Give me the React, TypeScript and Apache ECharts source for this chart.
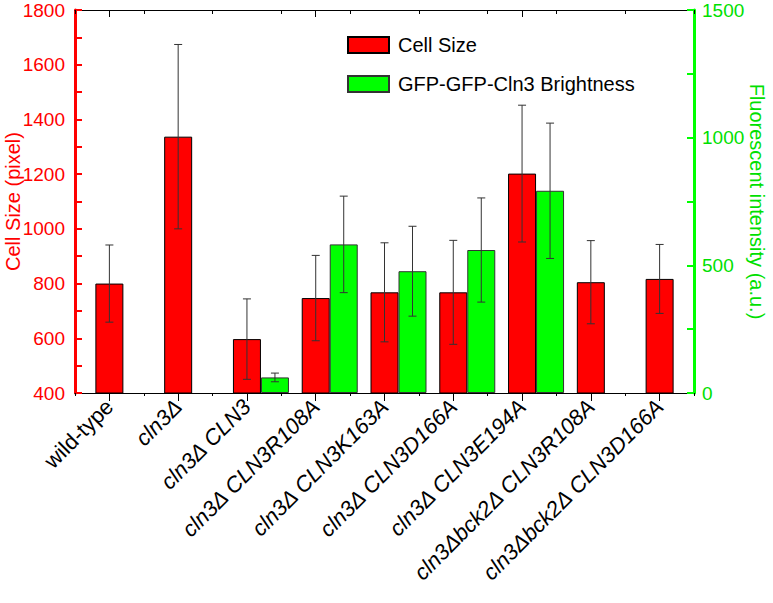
import React, { useEffect, useRef } from "react";
import * as echarts from "echarts";

const categories = [
  "wild-type",
  "cln3Δ",
  "cln3Δ CLN3",
  "cln3Δ CLN3R108A",
  "cln3Δ CLN3K163A",
  "cln3Δ CLN3D166A",
  "cln3Δ CLN3E194A",
  "cln3Δbck2Δ CLN3R108A",
  "cln3Δbck2Δ CLN3D166A",
];
const cellSize = [800, 1337, 597, 747, 768, 768, 1202, 805, 817];
const cellSizeErr = [141, 337, 147, 156, 181, 190, 250, 152, 126];
const brightness: (number | null)[] = [null, null, 61, 582, 477, 560, 792, null, null];
const brightnessErr: (number | null)[] = [null, null, 17, 189, 176, 204, 265, null, null];

const FONT = "'Liberation Sans', Arial, sans-serif";
const RED = "#ff0000";
const GREEN = "#00ff00";
const GREEN_TEXT = "#00e000";
const BAR_W = 28;

function errRenderer(offset: number) {
  return (params: any, api: any) => {
    const x = api.value(0);
    const lo = api.value(1);
    const hi = api.value(2);
    const p1 = api.coord([x, hi]);
    const p2 = api.coord([x, lo]);
    const cx = p1[0] + offset;
    const style = { stroke: "#333333", lineWidth: 1 };
    return {
      type: "group",
      children: [
        { type: "line", shape: { x1: cx, y1: p1[1], x2: cx, y2: p2[1] }, style },
        { type: "line", shape: { x1: cx - 4, y1: p1[1], x2: cx + 4, y2: p1[1] }, style },
        { type: "line", shape: { x1: cx - 4, y1: p2[1], x2: cx + 4, y2: p2[1] }, style },
      ],
    };
  };
}

export default function App() {
  const ref = useRef<HTMLDivElement>(null);
  useEffect(() => {
    if (!ref.current) return;
    const chart = echarts.init(ref.current, undefined, { renderer: "svg" });
    const cellErrData = cellSize.map((v, i) => [i, v - cellSizeErr[i], v + cellSizeErr[i]]);
    const brightErrData: number[][] = [];
    brightness.forEach((v, i) => {
      if (v != null && brightnessErr[i] != null) {
        brightErrData.push([i, v - (brightnessErr[i] as number), v + (brightnessErr[i] as number)]);
      }
    });
    chart.setOption({
      animation: false,
      textStyle: { fontFamily: FONT },
      grid: { left: 75, right: 79, top: 10, bottom: 210, containLabel: false, outerBoundsMode: "none" },
      legend: {
        data: ["Cell Size", "GFP-GFP-Cln3 Brightness"],
        orient: "vertical",
        left: 342,
        top: 30,
        itemWidth: 41,
        itemHeight: 16,
        itemGap: 19,
        icon: "rect",
        textStyle: { fontSize: 20, color: "#000", fontFamily: FONT, padding: [0, 0, 0, 4] },
      },
      xAxis: [
        {
          type: "category",
          data: categories,
          position: "bottom",
          axisLine: { show: true, onZero: false, lineStyle: { color: "#000", width: 1 } },
          axisTick: { show: true, alignWithLabel: true, length: 8, lineStyle: { color: "#000" } },
          axisLabel: {
            rotate: 45,
            margin: 10,
            interval: 0,
            formatter: (v: string) => (v === "wild-type" ? `{n|${v}}` : `{i|${v}}`),
            rich: {
              n: { fontSize: 22, fontStyle: "normal", color: "#000", fontFamily: FONT },
              i: { fontSize: 22, fontStyle: "italic", color: "#000", fontFamily: FONT },
            },
          },
          splitLine: { show: false },
        },
        {
          type: "value",
          min: 0,
          max: 18,
          interval: 2,
          position: "bottom",
          axisLine: { show: false, onZero: false },
          axisTick: { show: true, length: 3, lineStyle: { color: "#000" } },
          axisLabel: { show: false },
          splitLine: { show: false },
        },
        {
          type: "category",
          data: categories,
          position: "top",
          axisLine: { show: true, onZero: false, lineStyle: { color: "#000", width: 1 } },
          axisTick: { show: true, alignWithLabel: true, inside: true, length: 7, lineStyle: { color: "#000" } },
          axisLabel: { show: false },
          splitLine: { show: false },
        },
        {
          type: "value",
          min: 0,
          max: 18,
          interval: 2,
          position: "top",
          axisLine: { show: false, onZero: false },
          axisTick: { show: true, inside: true, length: 4, lineStyle: { color: "#000" } },
          axisLabel: { show: false },
          splitLine: { show: false },
        },
      ],
      yAxis: [
        {
          type: "value",
          position: "left",
          min: 400,
          max: 1800,
          interval: 100,
          axisLine: { show: true, onZero: false, lineStyle: { color: RED, width: 3 } },
          axisTick: { show: true, inside: true, length: 7, lineStyle: { color: RED, width: 2 } },
          axisLabel: {
            color: RED,
            fontSize: 19,
            margin: 10,
            fontFamily: FONT,
            formatter: (v: number) => (v % 200 === 0 ? String(v) : ""),
          },
          splitLine: { show: false },
          name: "Cell Size (pixel)",
          nameLocation: "middle",
          nameGap: 52,
          nameMoveOverlap: false,
          nameTextStyle: { color: RED, fontSize: 20, fontFamily: FONT },
        },
        {
          type: "value",
          position: "right",
          min: 0,
          max: 1500,
          interval: 250,
          axisLine: { show: true, onZero: false, lineStyle: { color: GREEN, width: 3 } },
          axisTick: { show: true, inside: true, length: 7, lineStyle: { color: GREEN, width: 2 } },
          axisLabel: {
            color: GREEN_TEXT,
            fontSize: 19,
            margin: 8,
            fontFamily: FONT,
            formatter: (v: number) => (v % 500 === 0 ? String(v) : ""),
          },
          splitLine: { show: false },
          name: "Fluorescent intensity (a.u.)",
          nameLocation: "middle",
          nameRotate: -90,
          nameGap: 53,
          nameMoveOverlap: false,
          nameTextStyle: { color: GREEN_TEXT, fontSize: 20, fontFamily: FONT },
        },
      ],
      series: [
        {
          name: "placeholder",
          type: "bar",
          xAxisIndex: 0,
          yAxisIndex: 0,
          barWidth: BAR_W,
          barGap: "0%",
          data: categories.map(() => null),
        },
        {
          name: "Cell Size",
          type: "bar",
          xAxisIndex: 0,
          yAxisIndex: 0,
          barWidth: BAR_W,
          barGap: "0%",
          itemStyle: { color: RED, borderColor: "#000", borderWidth: 1 },
          data: cellSize,
        },
        {
          name: "GFP-GFP-Cln3 Brightness",
          type: "bar",
          xAxisIndex: 0,
          yAxisIndex: 1,
          barWidth: BAR_W,
          barGap: "0%",
          itemStyle: { color: GREEN, borderColor: "#333", borderWidth: 1 },
          data: brightness,
        },
        {
          name: "cellErr",
          type: "custom",
          xAxisIndex: 0,
          yAxisIndex: 0,
          z: 5,
          renderItem: errRenderer(0),
          data: cellErrData,
        },
        {
          name: "brightErr",
          type: "custom",
          xAxisIndex: 0,
          yAxisIndex: 1,
          z: 5,
          renderItem: errRenderer(BAR_W),
          data: brightErrData,
        },
      ],
    });
    return () => chart.dispose();
  }, []);
  return (
    <div
      ref={ref}
      style={{ position: "fixed", left: 0, top: 0, width: 773, height: 603, background: "#fff" }}
    />
  );
}
